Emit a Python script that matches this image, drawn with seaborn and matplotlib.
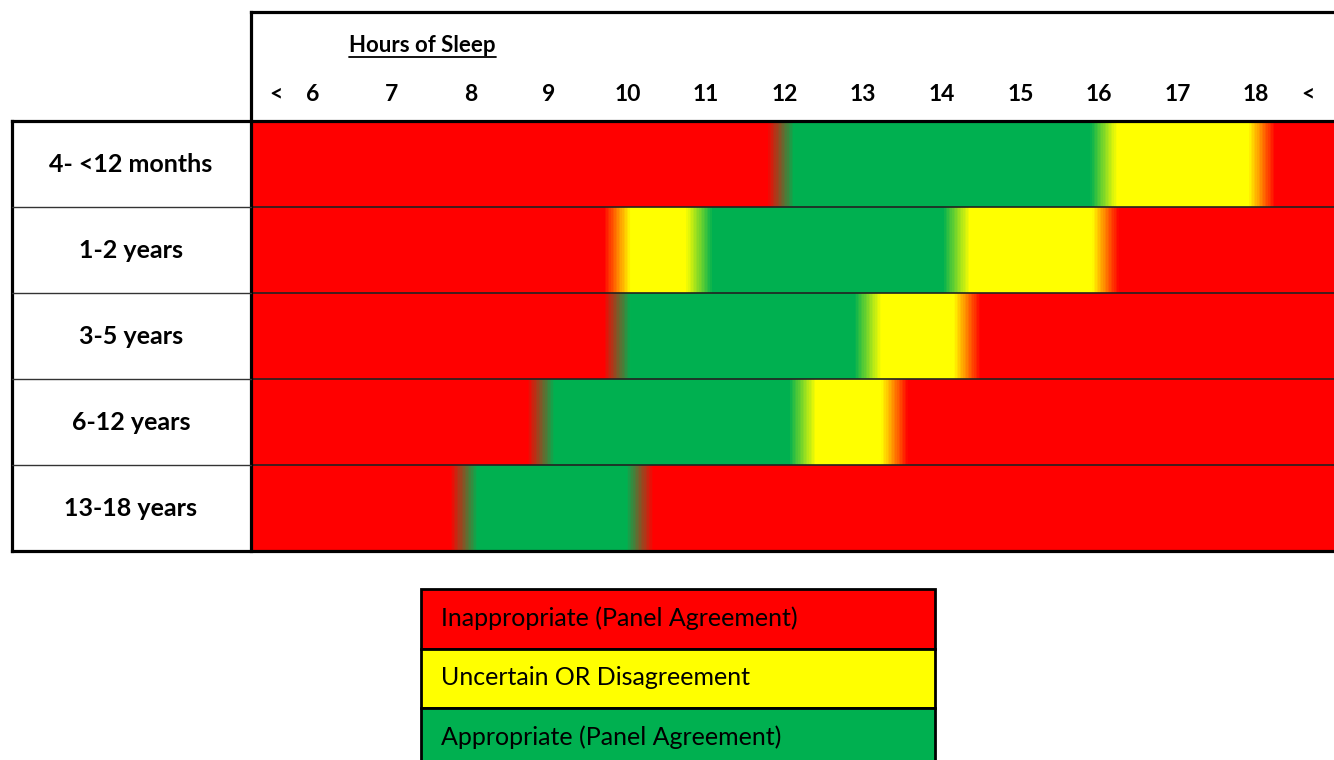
import numpy as np
import matplotlib.pyplot as plt
import seaborn as sns
from matplotlib.colors import LinearSegmentedColormap
from matplotlib.patches import Rectangle

sns.set_style("white")
plt.rcParams['font.family'] = ['Lato', 'DejaVu Sans']
plt.rcParams['text.color'] = 'black'
plt.rcParams['xtick.color'] = 'black'
plt.rcParams['ytick.color'] = 'black'

age_groups = ["4- <12 months", "1-2 years", "3-5 years", "6-12 years", "13-18 years"]

# rating bands per age group (R = inappropriate, Y = uncertain, G = appropriate)
row_ratings = [
    ["R", "G", "Y", "R"],
    ["R", "Y", "G", "Y", "R"],
    ["R", "G", "Y", "R"],
    ["R", "G", "Y", "R"],
    ["R", "G", "R"],
]
# hours of sleep where the rating changes
row_cuts = [
    [11.95, 16.06, 18.07],
    [9.87, 10.91, 14.19, 16.08],
    [9.87, 13.06, 14.32],
    [8.90, 12.23, 13.40],
    [7.92, 10.16],
]
hours = list(range(6, 19))

legend_labels = ["Inappropriate (Panel Agreement)",
                 "Uncertain OR Disagreement",
                 "Appropriate (Panel Agreement)"]
legend_keys = ["R", "Y", "G"]

rating_colors = {"R": "#FF0000", "Y": "#FFFF00", "G": "#00B050"}

# hour range shown and the fine grid used for the soft colour transitions
x0, x1 = 5.21, 18.99
step = 0.02
blend = 0.34
grid = np.arange(x0 + step / 2, x1, step)

# colormap made of 9 segments, one per (from, to) colour pair
pairs = [(a, b) for a in "RYG" for b in "RYG"]
nodes = []
for k, (a, b) in enumerate(pairs):
    nodes.append((k / 9, rating_colors[a]))
    nodes.append(((k + 1) / 9, rating_colors[b]))
cmap = LinearSegmentedColormap.from_list("bands", nodes, N=9 * 256)


def row_values(ratings, cuts):
    vals = np.empty(len(grid))
    for j, h in enumerate(grid):
        a = ratings[np.searchsorted(cuts, h)]
        b = a
        t = 0.5
        for i, c in enumerate(cuts):
            if abs(h - c) < blend / 2:
                a, b = ratings[i], ratings[i + 1]
                t = (h - c + blend / 2) / blend
        vals[j] = (pairs.index((a, b)) + t) / 9
    return vals


matrix = np.array([row_values(r, c) for r, c in zip(row_ratings, row_cuts)])

W, H = 1334, 760
fig = plt.figure(figsize=(W / 100, H / 100), dpi=100)
ax = fig.add_axes([251 / W, 1 - 551 / H, (W - 251) / W, 430 / H])
sns.heatmap(matrix, ax=ax, cmap=cmap, vmin=0, vmax=1, cbar=False,
            xticklabels=False, yticklabels=age_groups)


def hpos(h):
    return (h - x0) / step


tick_hours = [5.53] + hours + [18.66]
tick_labels = ["<"] + [str(h) for h in hours] + ["<"]
ax.set_xticks([hpos(t) for t in tick_hours])
ax.set_xticklabels(tick_labels)
ax.xaxis.tick_top()
ax.tick_params(axis='x', length=0, pad=19.4, labelsize=16.5)
ax.tick_params(axis='y', length=0, pad=86.4, labelsize=18)
for lab in ax.get_xticklabels():
    lab.set_fontweight('bold')
    lab.set_va('center')
for lab in ax.get_yticklabels():
    lab.set_fontweight('bold')
    lab.set_ha('center')
    lab.set_rotation(0)

for i in range(1, len(age_groups)):
    ax.axhline(i, color='#222222', lw=1.2)

# overlay in pixel coordinates for the table frame, title and key
ov = fig.add_axes([0, 0, 1, 1], zorder=5)
ov.set_xlim(0, W)
ov.set_ylim(H, 0)
ov.axis('off')
ov.patch.set_alpha(0)

frame = dict(color='black', lw=2.3, solid_capstyle='projecting')
ov.plot([251, W], [12, 12], **frame)
ov.plot([251, 251], [12, 551], **frame)
ov.plot([12, W], [121, 121], **frame)
ov.plot([12, W], [551, 551], **frame)
ov.plot([12, 12], [121, 551], **frame)
for y in [207, 293, 379, 465]:
    ov.plot([12, 251], [y, y], color='#333333', lw=1.0)

title = ov.text(349, 46, "Hours of Sleep", fontsize=16, fontweight='bold',
                ha='left', va='center')
fig.canvas.draw()
bb = title.get_window_extent()
(xa, _), (xb, _) = ov.transData.inverted().transform([[bb.x0, bb.y0], [bb.x1, bb.y1]])
ov.plot([xa, xb], [57, 57], color='black', lw=1.3)

for i, (lab, key) in enumerate(zip(legend_labels, legend_keys)):
    top = 589 + i * 59.7
    ov.add_patch(Rectangle((421, top), 514, 59.7, facecolor=rating_colors[key],
                           edgecolor='black', lw=2))
    ov.text(441, top + 29, lab, fontsize=18, ha='left', va='center')

fig.savefig("out.png", dpi=100)
